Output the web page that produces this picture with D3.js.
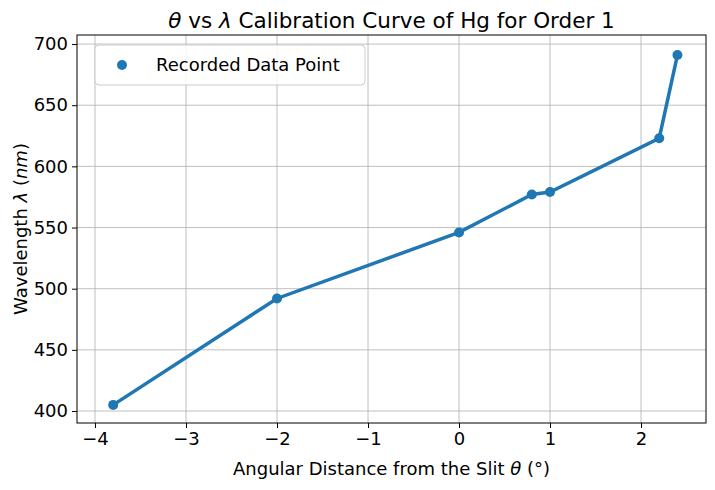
<!DOCTYPE html>
<html><head><meta charset="utf-8">
<script src="https://cdn.jsdelivr.net/npm/d3@7"></script>
<style>body{margin:0;background:#fff;font-family:"DejaVu Sans",sans-serif}</style>
</head><body>
<svg id="chart" width="715" height="490"></svg>
<script>
var angles = [-3.8, -2, 0, 0.8, 1, 2.2, 2.4];
var wavelengths = [405, 492, 546, 577, 579, 623, 691];
var xTicks = [-4, -3, -2, -1, 0, 1, 2];
var yTicks = [400, 450, 500, 550, 600, 650, 700];

var svg = d3.select("#chart");
var pl = 77, pr = 706, pt = 35, pb = 423;
var x = d3.scaleLinear().domain([-4.198, 2.714]).range([pl, pr]);
var y = d3.scaleLinear().domain([390.2, 707.4]).range([pb, pt]);
var fs = 18;

// grid
svg.append("g").selectAll("line").data(xTicks).enter().append("line")
  .attr("x1", d => x(d)).attr("x2", d => x(d)).attr("y1", pt).attr("y2", pb)
  .attr("stroke", "#b0b0b0").attr("stroke-width", 0.8);
svg.append("g").selectAll("line").data(yTicks).enter().append("line")
  .attr("y1", d => y(d)).attr("y2", d => y(d)).attr("x1", pl).attr("x2", pr)
  .attr("stroke", "#b0b0b0").attr("stroke-width", 0.8);

var fmt = d => String(d).replace("-", "\u2212");
var xAxis = svg.append("g").attr("transform", `translate(0,${pb})`)
  .call(d3.axisBottom(x).tickValues(xTicks).tickFormat(fmt).tickSize(5).tickPadding(4));
var yAxis = svg.append("g").attr("transform", `translate(${pl},0)`)
  .call(d3.axisLeft(y).tickValues(yTicks).tickSize(5).tickPadding(4));
[xAxis, yAxis].forEach(a => {
  a.select(".domain").remove();
  a.selectAll("text").attr("font-size", fs).attr("font-family", "DejaVu Sans").attr("fill", "#000");
  a.selectAll("line").attr("stroke", "#000");
});
svg.append("rect").attr("x", pl).attr("y", pt).attr("width", pr - pl).attr("height", pb - pt)
  .attr("fill", "none").attr("stroke", "#000").attr("stroke-width", 1);

var pts = angles.map((a, i) => [a, wavelengths[i]]);
svg.append("path").datum(pts)
  .attr("d", d3.line().x(d => x(d[0])).y(d => y(d[1])))
  .attr("fill", "none").attr("stroke", "#1f77b4").attr("stroke-width", 3.5);
svg.append("g").selectAll("circle").data(pts).enter().append("circle")
  .attr("cx", d => x(d[0])).attr("cy", d => y(d[1])).attr("r", 5).attr("fill", "#1f77b4");

// legend
svg.append("rect").attr("x", 95).attr("y", 45).attr("width", 270).attr("height", 40).attr("rx", 4)
  .attr("fill", "#fff").attr("fill-opacity", 0.8).attr("stroke", "#ccc");
svg.append("circle").attr("cx", 122).attr("cy", 65).attr("r", 5).attr("fill", "#1f77b4");
svg.append("text").attr("x", 156).attr("y", 71).attr("font-size", fs).text("Recorded Data Point");

// title & labels
var title = svg.append("text").attr("x", (pl + pr) / 2).attr("y", 28).attr("text-anchor", "middle").attr("font-size", 21.5);
title.append("tspan").attr("font-style", "italic").text("θ");
title.append("tspan").text(" vs ");
title.append("tspan").attr("font-style", "italic").text("λ");
title.append("tspan").text(" Calibration Curve of Hg for Order 1");

var xl = svg.append("text").attr("x", (pl + pr) / 2).attr("y", 475).attr("text-anchor", "middle").attr("font-size", fs);
xl.append("tspan").text("Angular Distance from the Slit ");
xl.append("tspan").attr("font-style", "italic").text("θ");
xl.append("tspan").text(" (°)");

var yl = svg.append("text").attr("transform", `translate(27,${(pt + pb) / 2}) rotate(-90)`).attr("text-anchor", "middle").attr("font-size", fs);
yl.append("tspan").text("Wavelength ");
yl.append("tspan").attr("font-style", "italic").text("λ");
yl.append("tspan").text(" (");
yl.append("tspan").attr("font-style", "italic").text("nm");
yl.append("tspan").text(")");
</script>
</body></html>
